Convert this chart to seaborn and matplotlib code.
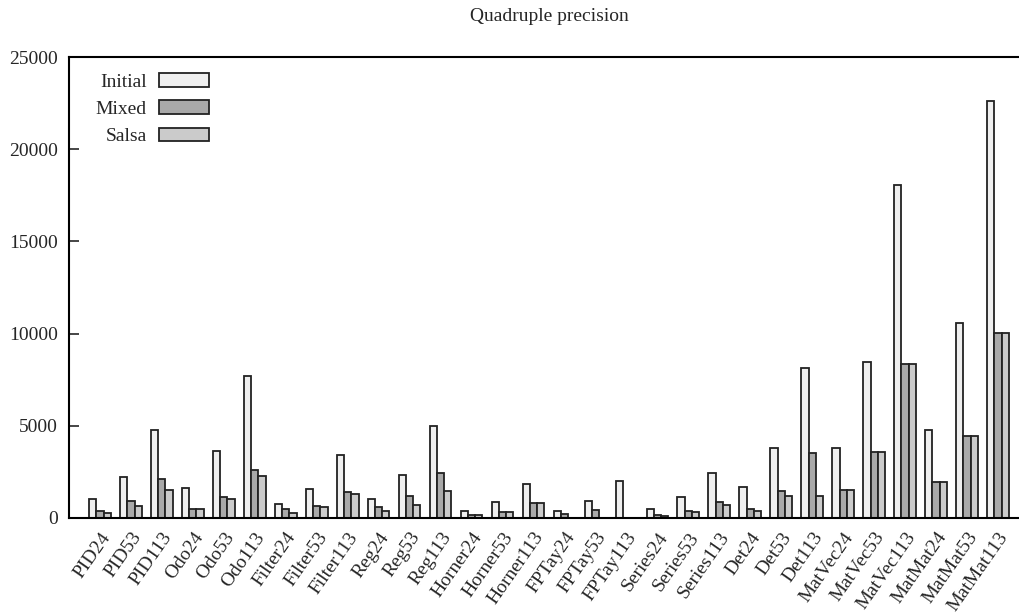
import numpy as np
import pandas as pd
import seaborn as sns
import matplotlib.pyplot as plt

# benchmark names and timings
benchmarks = ['PID24', 'PID53', 'PID113', 'Odo24', 'Odo53', 'Odo113',
              'Filter24', 'Filter53', 'Filter113', 'Reg24', 'Reg53', 'Reg113',
              'Horner24', 'Horner53', 'Horner113', 'FPTay24', 'FPTay53', 'FPTay113',
              'Series24', 'Series53', 'Series113', 'Det24', 'Det53', 'Det113',
              'MatVec24', 'MatVec53', 'MatVec113', 'MatMat24', 'MatMat53', 'MatMat113']

initial = [1010, 2240, 4770, 1630, 3615, 7685,
           740, 1590, 3400, 1050, 2350, 4990,
           400, 870, 1830, 400, 920, 2025,
           505, 1140, 2460, 1680, 3780, 8130,
           3800, 8475, 18075, 4755, 10590, 22600]
mixed = [400, 920, 2115, 505, 1140, 2585,
         505, 630, 1390, 600, 1175, 2440,
         160, 340, 810, 220, 450, np.nan,
         160, 380, 850, 505, 1450, 3545,
         1540, 3600, 8335, 1950, 4450, 10050]
salsa = [290, 670, 1500, 470, 1010, 2260,
         270, 580, 1280, 380, 720, 1465,
         160, 340, 810, np.nan, np.nan, np.nan,
         130, 325, 705, 400, 1175, 1175,
         1540, 3600, 8335, 1950, 4450, 10050]

versions = ['Initial', 'Mixed', 'Salsa']
colors = ['#efefef', '#a9a9a9', '#cbcbcb']

df = pd.DataFrame({'Benchmark': benchmarks * 3,
                   'Version': np.repeat(versions, len(benchmarks)),
                   'Time': initial + mixed + salsa})
df = df.dropna()

sns.set_style('white')
plt.rcParams['font.family'] = ['Liberation Serif', 'DejaVu Serif']

fig = plt.figure(figsize=(10.2, 6.13), dpi=100)
ax = fig.add_axes([0.0676, 0.155, 0.9412, 0.752])

sns.barplot(data=df, x='Benchmark', y='Time', hue='Version', order=benchmarks,
            hue_order=versions, palette=colors, width=0.7, edgecolor='#222222',
            linewidth=1.3, saturation=1, ax=ax)

ax.set_xlim(-1, 30)
ax.set_ylim(0, 25000)
ax.set_yticks([0, 5000, 10000, 15000, 20000, 25000])
ax.set_xlabel('')
ax.set_ylabel('')
ax.set_title('Quadruple precision', fontsize=14, pad=26)

for s in ax.spines.values():
    s.set_visible(True)
    s.set_linewidth(1.5)
    s.set_color('black')

ax.tick_params(axis='y', direction='in', length=7, width=1.2, left=True, right=True,
               labelsize=14, pad=8)
ax.tick_params(axis='x', length=0, labelsize=14, pad=8)
plt.setp(ax.get_xticklabels(), rotation=55, ha='right', rotation_mode='anchor')

ax.legend(loc='upper right', bbox_to_anchor=(0.146, 0.965), frameon=False,
          markerfirst=False, fontsize=14, handlelength=2.6, handleheight=0.7,
          handletextpad=0.6, labelspacing=0.5, borderpad=0, borderaxespad=0)

fig.savefig('out.png', dpi=100)
